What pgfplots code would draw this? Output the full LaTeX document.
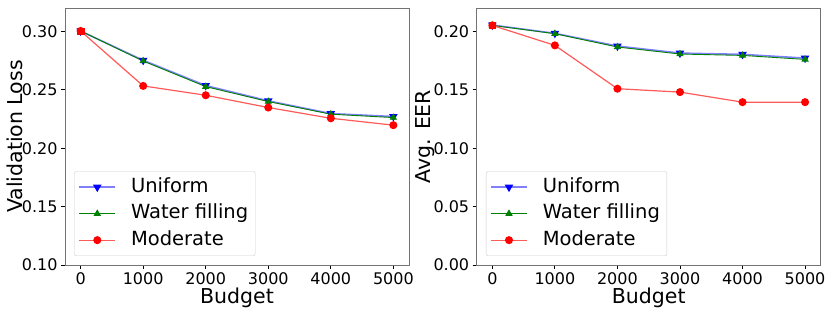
\documentclass[border=0pt]{standalone}
\usepackage{fontspec}
\setmainfont{DejaVu Sans}
\usepackage{pgfplots}
\pgfplotsset{compat=1.18}
\definecolor{mgreen}{RGB}{0,128,0}
\definecolor{lblue}{RGB}{128,128,255}
\definecolor{lred}{RGB}{255,90,90}
\pgfplotsset{
  myaxis/.style={
    scale only axis, width=344pt, height=257pt,
    xmin=-250, xmax=5250,
    xtick={0,1000,2000,3000,4000,5000},
    scaled x ticks=false,
    axis line style={black!55, line width=0.8pt},
    tick style={black, line width=0.8pt},
    tick align=outside, major tick length=4pt,
    xtick pos=bottom, ytick pos=left,
    /pgf/number format/assume math mode=true,
    /pgf/number format/fixed, /pgf/number format/fixed zerofill,
    /pgf/number format/precision=2,
    /pgf/number format/1000 sep={},
    xticklabel style={/pgf/number format/precision=0, /pgf/number format/fixed zerofill=false},
    ticklabel style={font=\fontsize{16}{18}\selectfont},
    label style={font=\fontsize{20.5}{23}\selectfont},
    xlabel={Budget},
    xlabel style={yshift=4pt},
    ylabel style={yshift=-8pt},
    legend style={at={(0.027,0.035)}, anchor=south west, draw=black!20, rounded corners=2pt,
      font=\fontsize{19.5}{22}\selectfont, row sep=3pt, column sep=12pt,
      inner xsep=4pt, inner ysep=3.9pt,
      nodes={inner xsep=3pt, inner ysep=2pt, text height=15pt, text depth=4.5pt},
      cells={anchor=west}},
    legend image code/.code={\draw[mark repeat=2,mark phase=2] plot coordinates {(0pt,0pt)(18pt,0pt)(36pt,0pt)};},
    legend cell align=left,
  },
  uni/.style={lblue, line width=1.6pt, mark=triangle*, mark options={blue, solid, rotate=180, scale=1.7}},
  wat/.style={mgreen, line width=0.9pt, mark=triangle*, mark options={mgreen, solid, scale=1.7}},
  mod/.style={lred, line width=1.2pt, mark=*, mark options={red, solid, scale=1.7}},
}
\begin{document}
\begin{tikzpicture}
\path[use as bounding box] (0,0) rectangle (830pt,312pt);
\begin{axis}[myaxis, at={(65pt,47pt)}, anchor=south west,
  ymin=0.10, ymax=0.32, ytick={0.10,0.15,0.20,0.25,0.30},
  ylabel={Validation Loss}]
\addplot[uni] coordinates {(0,0.3003)(1000,0.2752)(2000,0.2536)(3000,0.2405)(4000,0.2296)(5000,0.2271)};
\addlegendentry{Uniform}
\addplot[wat] coordinates {(0,0.3003)(1000,0.2746)(2000,0.2527)(3000,0.2399)(4000,0.2291)(5000,0.2262)};
\addlegendentry{Water filling}
\addplot[mod] coordinates {(0,0.3003)(1000,0.2533)(2000,0.2453)(3000,0.2348)(4000,0.2256)(5000,0.2197)};
\addlegendentry{Moderate}
\addplot[only marks, mark=square*, mark options={red, scale=1.6}, forget plot] coordinates {(0,0.3003)};
\end{axis}
\begin{axis}[myaxis, at={(476.7pt,47pt)}, anchor=south west,
  ymin=0.0, ymax=0.22, ytick={0.00,0.05,0.10,0.15,0.20},
  ylabel={Avg. EER}]
\addplot[uni] coordinates {(0,0.2054)(1000,0.1983)(2000,0.1874)(3000,0.1814)(4000,0.1803)(5000,0.1771)};
\addlegendentry{Uniform}
\addplot[wat] coordinates {(0,0.2051)(1000,0.1980)(2000,0.1866)(3000,0.1806)(4000,0.1794)(5000,0.1760)};
\addlegendentry{Water filling}
\addplot[mod] coordinates {(0,0.2051)(1000,0.1880)(2000,0.1509)(3000,0.1480)(4000,0.1394)(5000,0.1394)};
\addlegendentry{Moderate}
\addplot[only marks, mark=square*, mark options={red, scale=1.6}, forget plot] coordinates {(0,0.2051)};
\end{axis}
\end{tikzpicture}
\end{document}
